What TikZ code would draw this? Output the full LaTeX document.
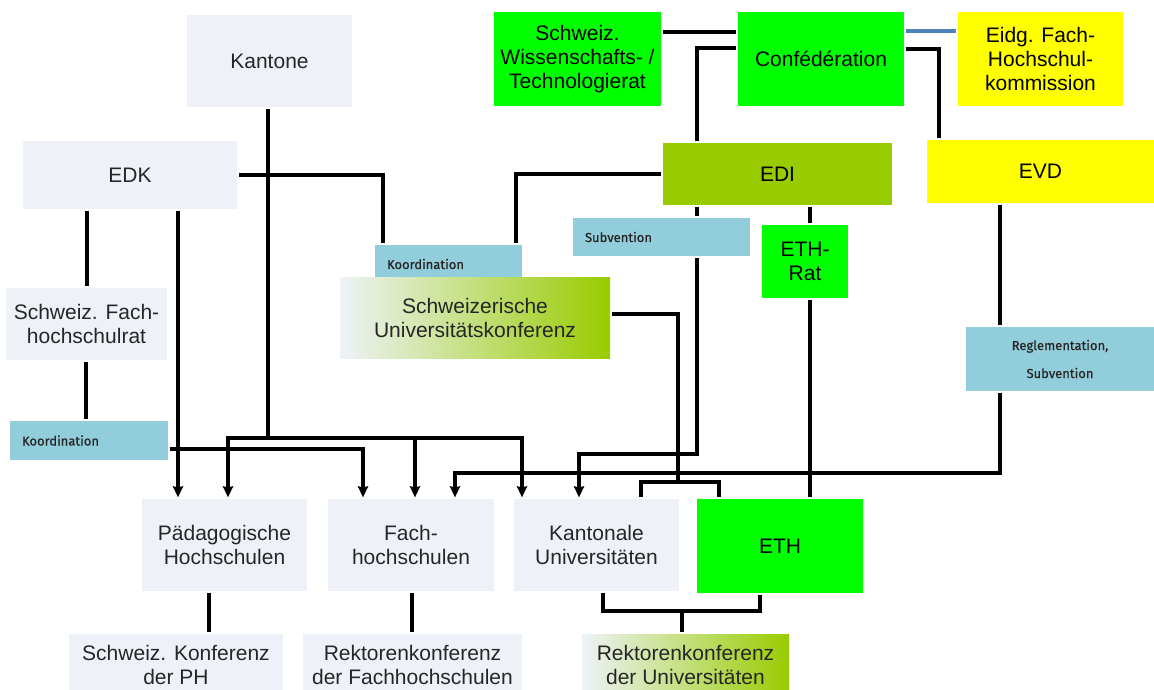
\documentclass[tikz,border=0pt]{standalone}
\usepackage{fontspec}
\setmainfont{Liberation Sans}
\newfontfamily\tagfont[FakeBold=0.6]{Fira Sans}
\usepackage{tikz}
\usetikzlibrary{arrows.meta,positioning}
\definecolor{greybox}{RGB}{238,242,248}
\definecolor{greenbox}{RGB}{0,255,0}
\definecolor{yellowbox}{RGB}{255,255,0}
\definecolor{olivebox}{RGB}{153,204,0}
\definecolor{tagblue}{RGB}{146,205,220}
\definecolor{linkblue}{RGB}{79,129,189}
\definecolor{boxtext}{RGB}{38,38,38}

\begin{document}
\begin{tikzpicture}[x=1pt, y=-1pt, >={Stealth[length=11pt,width=10pt,inset=1pt]}, line width=3.2pt]
	\tikzstyle{every node}=[inner sep=0pt, align=center, text=boxtext, font=\fontsize{21}{24}\selectfont]
	\tikzstyle{kbox}=[fill=greybox]
	\tikzstyle{gbox}=[fill=greenbox, text=black]
	\tikzstyle{ybox}=[fill=yellowbox, text=black]
	\tikzstyle{obox}=[fill=olivebox, text=black]
	\tikzstyle{shbox}=[left color=greybox, right color=olivebox]
	\tikzstyle{tagbox}=[fill=tagblue, text=black!85, font=\tagfont\fontsize{13}{28}\selectfont]
	\useasboundingbox (0,0) rectangle (1154,689);
	\node[kbox, minimum width=165pt, minimum height=92pt]    (kant)   at (269.5,61)   {Kantone};
	\node[kbox, minimum width=214pt, minimum height=68pt]    (edk)    at (130,175)    {EDK};
	\node[gbox, minimum width=167pt, minimum height=94pt]    (swtr)   at (577.5,59)   {Schweiz.\\Wissenschafts- /\\Technologierat};
	\node[gbox, minimum width=166pt, minimum height=94pt]    (conf)   at (821,59)     {Confédération};
	\node[ybox, minimum width=165pt, minimum height=94pt]    (fhk)    at (1040.5,59)  {Eidg. Fach-\\Hochschul-\\kommission};
	\node[obox, minimum width=229pt, minimum height=62pt]    (edi)    at (777.5,174)  {EDI};
	\node[ybox, minimum width=227pt, minimum height=63pt]    (evd)    at (1040.5,171.5) {EVD};
	\node[tagbox, minimum height=38pt, text width=153pt, inner xsep=12pt, align=left] (subv) at (661.5,237) {Subvention};
	\node[gbox, minimum width=86pt, minimum height=73pt]     (ethrat) at (805,261.5)  {ETH-\\Rat};
	\node[tagbox, minimum height=38pt, text width=123pt, inner xsep=12pt, align=left] (koordsuk) at (448.5,264) {Koordination};
	\node[shbox, minimum width=270pt, minimum height=81pt]   (suk)    at (475,317.5)  {Schweizerische\\Universitätskonferenz};
	\node[kbox, minimum width=161pt, minimum height=72pt]    (fhr)    at (86.5,324)   {Schweiz. Fach-\\hochschulrat};
	\node[tagbox, minimum height=39pt, text width=134pt, inner xsep=12pt, align=left] (koordfhr) at (89,440.5) {Koordination};
	\node[tagbox, minimum width=188pt, minimum height=64pt]  (regl)   at (1060,359)   {Reglementation,\\Subvention};
	\node[kbox, minimum width=165pt, minimum height=92pt]    (ph)     at (224.5,545)  {Pädagogische\\Hochschulen};
	\node[kbox, minimum width=166pt, minimum height=92pt]    (fh)     at (411,545)    {Fach-\\hochschulen};
	\node[kbox, minimum width=165pt, minimum height=92pt]    (ku)     at (596.5,545)  {Kantonale\\Universitäten};
	\node[gbox, minimum width=166pt, minimum height=94pt]    (eth)    at (780,546)    {ETH};
	\node[kbox, minimum width=214pt, minimum height=62pt]    (kph)    at (176,665)    {Schweiz. Konferenz\\der PH};
	\node[kbox, minimum width=219pt, minimum height=62pt]    (rfh)    at (412.5,665)  {Rektorenkonferenz\\der Fachhochschulen};
	\node[shbox, minimum width=207pt, minimum height=62pt]   (ruk)    at (685.5,665)  {Rektorenkonferenz\\der Universitäten};
	\coordinate (kbus) at (268,438);
	\coordinate (ubus) at (678,482);
	\coordinate (edibus) at (579,454);
	\coordinate (evdbus) at (455,473);
	\coordinate (rbus) at (682,611);
	\draw (swtr.east |- 0,32) -- (conf.west |- 0,32);
	\draw[linkblue] (conf.east |- 0,31) -- (fhk.west |- 0,31);
	\draw (conf.west |- 0,48) -| (edi.north -| 697,0);
	\draw (conf.east |- 0,49) -| (evd.north -| 939,0);
	\draw (edk.east) -| (koordsuk.north -| 383,0);
	\draw (edi.west) -| (koordsuk.north -| 516,0);
	\draw (edk.south -| 87,0) -- (fhr.north -| 87,0);
	\draw (fhr.south -| 86,0) -- (koordfhr.north -| 86,0);
	\draw[->] (edk.south -| 178,0) -- (ph.north -| 178,0);
	\draw[->] (koordfhr.east |- 0,449) -| (fh.north -| 363,0);
	\draw (kant.south -| kbus) -- (kbus);
	\draw[->] (kbus) -| (ph.north -| 228,0);
	\draw[->] (kbus) -| (ku.north -| 522,0);
	\draw[->] (kbus -| 415,0) -- (fh.north -| 415,0);
	\draw (edi.south -| 697,0) -- (subv.north -| 697,0);
	\draw[->] (subv.south -| 697,0) |- (edibus) -- (ku.north -| edibus);
	\draw (suk.east |- 0,314) -| (ubus);
	\draw (ubus) -| (ku.north -| 641,0);
	\draw (ubus) -| (eth.north -| 719,0);
	\draw (edi.south -| 810,0) -- (ethrat.north -| 810,0);
	\draw (ethrat.south -| 810,0) -- (eth.north -| 810,0);
	\draw (evd.south -| 1000,0) -- (regl.north -| 1000,0);
	\draw[->] (regl.south -| 1000,0) |- (evdbus) -- (fh.north -| evdbus);
	\draw (ph.south -| 209,0) -- (kph.north -| 209,0);
	\draw (fh.south -| 412,0) -- (rfh.north -| 412,0);
	\draw (ku.south -| 603,0) |- (rbus) -| (eth.south -| 760,0);
	\draw (rbus) -- (ruk.north -| rbus);
\end{tikzpicture}
\end{document}
